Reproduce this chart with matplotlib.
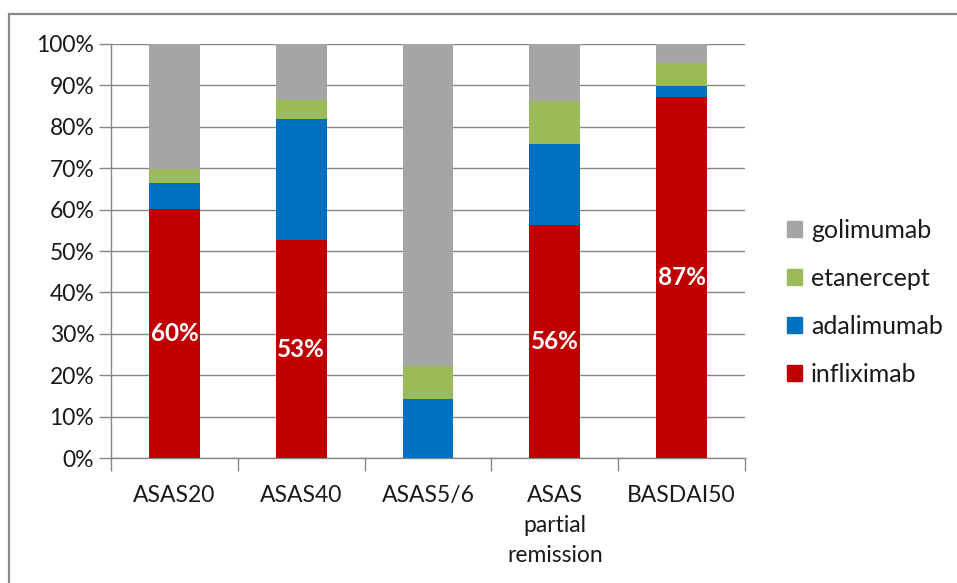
import numpy as np
import matplotlib.pyplot as plt
from matplotlib.patches import Patch, Rectangle

plt.rcParams['font.family'] = ['Lato', 'DejaVu Sans']

categories = ['ASAS20', 'ASAS40', 'ASAS5/6', 'ASAS\npartial\nremission', 'BASDAI50']
infliximab = [60.1, 52.7, 0.0, 56.3, 87.1]
adalimumab = [6.2, 29.1, 14.3, 19.6, 2.7]
etanercept = [3.4, 4.6, 8.0, 10.2, 5.5]
golimumab = [100 - a - b - c for a, b, c in zip(infliximab, adalimumab, etanercept)]
red_labels = ['60%', '53%', '', '56%', '87%']

colors = {'infliximab': '#C00000', 'adalimumab': '#0070C0',
          'etanercept': '#9BBB59', 'golimumab': '#A5A5A5'}
grid_col = '#868686'
text_col = '#1a1a1a'

fig = plt.figure(figsize=(9.57, 5.83), dpi=100)
ax = fig.add_axes([0.116, 0.2139, 0.6625, 0.7111])

# outer chart border, open to the right and bottom
fig.patches.append(Rectangle((9 / 957, -0.1), 1.2, (583 - 14) / 583 + 0.1,
                             transform=fig.transFigure, fill=False,
                             edgecolor='#898989', linewidth=1.6))

x = np.arange(len(categories))
w = 0.4
bottom = np.zeros(len(categories))
for name, vals in [('infliximab', infliximab), ('adalimumab', adalimumab),
                   ('etanercept', etanercept), ('golimumab', golimumab)]:
    ax.bar(x, vals, w, bottom=bottom, color=colors[name], zorder=3)
    bottom += np.array(vals)

for xi, v, lab in zip(x, infliximab, red_labels):
    if lab:
        ax.text(xi, v / 2, lab, ha='center', va='center', color='white',
                fontsize=17.5, fontweight='bold', zorder=4)

ax.set_xlim(-0.5, len(categories) - 0.5)
ax.set_ylim(0, 100)
ax.set_yticks(np.arange(0, 101, 10))
ax.set_yticklabels(['{}%'.format(t) for t in range(0, 101, 10)], fontsize=16.5, color=text_col)
ax.yaxis.grid(True, color=grid_col, linewidth=1, zorder=0)

ax.set_xticks(np.arange(-0.5, len(categories), 1))
ax.set_xticklabels([])
ax.set_xticks(x, minor=True)
ax.set_xticklabels(categories, minor=True, fontsize=16.5, color=text_col, linespacing=1.55)
ax.tick_params(axis='x', which='major', length=9, color=grid_col, width=1)
ax.tick_params(axis='x', which='minor', length=0, pad=19)
ax.tick_params(axis='y', length=9, color=grid_col, width=1, pad=3)

for s in ['top', 'right']:
    ax.spines[s].set_visible(False)
for s in ['left', 'bottom']:
    ax.spines[s].set_color(grid_col)
    ax.spines[s].set_linewidth(1)

handles = [Patch(color=colors[n]) for n in ['golimumab', 'etanercept', 'adalimumab', 'infliximab']]
leg = fig.legend(handles, ['golimumab', 'etanercept', 'adalimumab', 'infliximab'],
                 loc='center left', bbox_to_anchor=(787 / 957, 0.481), frameon=False,
                 prop={'size': 18}, handlelength=0.6, handleheight=0.6, handletextpad=0.35,
                 labelspacing=1.0, borderpad=0, borderaxespad=0)
for t in leg.get_texts():
    t.set_color(text_col)

fig.savefig('out.png', dpi=100)
